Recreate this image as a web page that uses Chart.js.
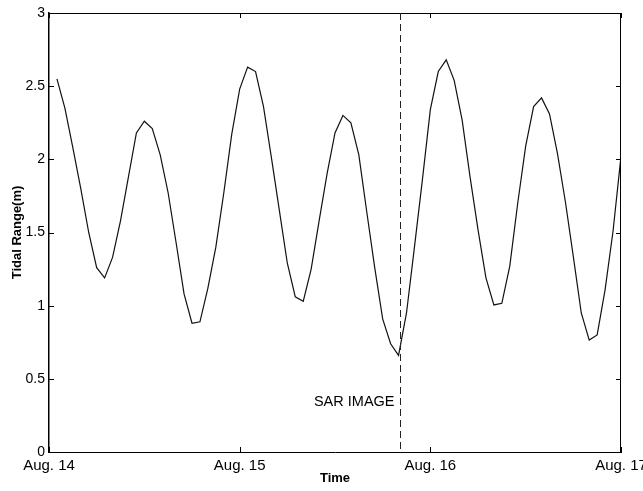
<!DOCTYPE html>
<html>
<head>
<meta charset="utf-8">
<script src="https://cdn.jsdelivr.net/npm/chart.js@4"></script>
<style>
  html, body { margin: 0; padding: 0; background: #fff; }
  #wrap { width: 643px; height: 491px; }
</style>
</head>
<body>
<div id="wrap"><canvas id="tideChart" width="643" height="491"></canvas></div>
<script>
// hours after Aug. 14 00:00
const hours = [
  1, 2, 3, 4, 5, 6, 7, 8, 9, 10, 11, 12,
  13, 14, 15, 16, 17, 18, 19, 20, 21, 22, 23, 24,
  25, 26, 27, 28, 29, 30, 31, 32, 33, 34, 35, 36,
  37, 38, 39, 40, 41, 42, 43, 44, 45, 46, 47, 48,
  49, 50, 51, 52, 53, 54, 55, 56, 57, 58, 59, 60,
  61, 62, 63, 64, 65, 66, 67, 68, 69, 70, 71, 72
];
// tidal range (m)
const tidalRange = [
  2.55, 2.35, 2.08, 1.80, 1.50, 1.26, 1.19, 1.33, 1.58, 1.88, 2.18, 2.26,
  2.21, 2.03, 1.77, 1.43, 1.08, 0.88, 0.89, 1.12, 1.40, 1.77, 2.17, 2.48,
  2.63, 2.60, 2.36, 2.01, 1.65, 1.29, 1.06, 1.03, 1.25, 1.58, 1.90, 2.18,
  2.30, 2.25, 2.03, 1.64, 1.26, 0.91, 0.74, 0.66, 0.95, 1.40, 1.86, 2.34,
  2.60, 2.68, 2.54, 2.27, 1.88, 1.52, 1.19, 1.005, 1.016, 1.27, 1.70, 2.09,
  2.36, 2.42, 2.31, 2.04, 1.71, 1.335, 0.95, 0.765, 0.80, 1.11, 1.51, 2.02
];
const dayTicks = [0, 24, 48, 72];
const dayLabels = ["Aug. 14", "Aug. 15", "Aug. 16", "Aug. 17"];
const rangeTicks = [0, 0.5, 1, 1.5, 2, 2.5, 3];
const sarHour = 44.2;
const sarLabel = "SAR IMAGE";

const FONT = "'Liberation Sans', Arial, sans-serif";

const frame = {
  id: "frame",
  afterDraw(chart) {
    const { ctx, chartArea: a, scales: { x, y } } = chart;
    const tick = 5;
    ctx.save();
    ctx.strokeStyle = "#000";
    ctx.lineWidth = 1;
    ctx.beginPath();
    ctx.moveTo(a.left, a.top + 0.5);
    ctx.lineTo(a.right, a.top + 0.5);
    ctx.moveTo(a.right - 0.5, a.top);
    ctx.lineTo(a.right - 0.5, a.bottom);
    dayTicks.forEach(v => {
      const px = Math.round(x.getPixelForValue(v)) + 0.5;
      ctx.moveTo(px, a.bottom);
      ctx.lineTo(px, a.bottom - tick);
      ctx.moveTo(px, a.top);
      ctx.lineTo(px, a.top + tick);
    });
    rangeTicks.forEach(v => {
      const py = Math.round(y.getPixelForValue(v)) + 0.5;
      ctx.moveTo(a.left, py);
      ctx.lineTo(a.left + tick, py);
      ctx.moveTo(a.right, py);
      ctx.lineTo(a.right - tick, py);
    });
    ctx.stroke();

    // SAR acquisition marker
    const sx = Math.round(x.getPixelForValue(sarHour)) + 0.5;
    ctx.setLineDash([7, 4]);
    ctx.strokeStyle = "#222";
    ctx.beginPath();
    ctx.moveTo(sx, a.top);
    ctx.lineTo(sx, a.bottom);
    ctx.stroke();
    ctx.setLineDash([]);

    ctx.fillStyle = "#000";
    ctx.font = "14.5px " + FONT;
    ctx.textAlign = "right";
    ctx.textBaseline = "middle";
    ctx.fillText(sarLabel, sx - 6, y.getPixelForValue(0.34));
    ctx.restore();
  }
};

new Chart(document.getElementById("tideChart"), {
  type: "line",
  data: {
    datasets: [
      {
        label: "Tidal Range",
        data: hours.map((h, i) => ({ x: h, y: tidalRange[i] })),
        borderColor: "#111",
        borderWidth: 1.2,
        pointRadius: 0,
        tension: 0,
        fill: false,
      },
    ],
  },
  options: {
    responsive: false,
    animation: false,
    layout: { padding: { top: 13, right: 22, left: 0, bottom: 0 } },
    plugins: { legend: { display: false }, tooltip: { enabled: false } },
    scales: {
      x: {
        type: "linear",
        min: 0,
        max: 72,
        afterBuildTicks(scale) {
          scale.ticks = dayTicks.map(v => ({ value: v }));
        },
        afterFit(scale) {
          scale.height = 39;
          scale.paddingLeft = 0;
          scale.paddingRight = 0;
        },
        grid: { display: false, drawTicks: false },
        border: { display: true, color: "#000", width: 1 },
        ticks: {
          padding: 5,
          color: "#000",
          font: { family: FONT, size: 15 },
          maxRotation: 0,
          autoSkip: false,
          callback(value) {
            return dayLabels[dayTicks.indexOf(value)];
          },
        },
        title: {
          display: true,
          text: "Time",
          color: "#000",
          font: { family: FONT, size: 13, weight: "bold" },
          padding: { top: 0, bottom: 5 },
        },
      },
      y: {
        min: 0,
        max: 3,
        afterBuildTicks(scale) {
          scale.ticks = rangeTicks.map(v => ({ value: v }));
        },
        afterFit(scale) {
          scale.width = 49;
        },
        grid: { display: false, drawTicks: false },
        border: { display: true, color: "#000", width: 1.5 },
        ticks: {
          padding: 4,
          color: "#000",
          font: { family: FONT, size: 14 },
          callback(value) {
            return String(value);
          },
        },
        title: {
          display: true,
          text: "Tidal Range(m)",
          color: "#000",
          font: { family: FONT, size: 13, weight: "bold" },
          padding: { top: 10, bottom: 0 },
        },
      },
    },
  },
  plugins: [frame],
});
</script>
</body>
</html>
